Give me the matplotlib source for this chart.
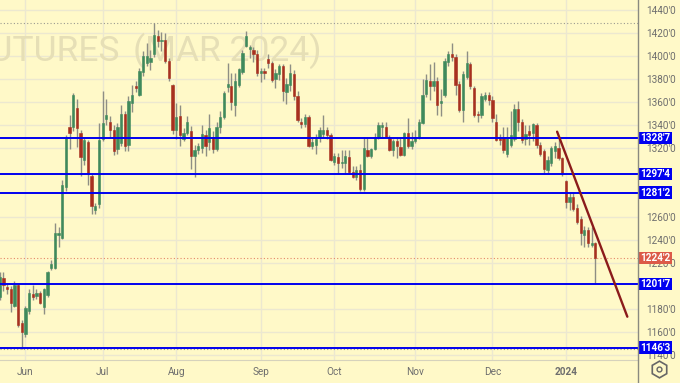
import matplotlib
matplotlib.use("Agg")
import matplotlib.pyplot as plt
from matplotlib.lines import Line2D
from matplotlib.patches import Rectangle
import pandas as pd

# daily bars, soybean futures Mar 2024
holidays = ["2023-05-29", "2023-06-19", "2023-07-04", "2023-09-04",
            "2023-11-23", "2023-12-25", "2024-01-01"]
dates = pd.bdate_range("2023-05-22", "2024-01-12")
dates = dates[~dates.isin(pd.to_datetime(holidays))]

opens = [1190, 1207, 1199, 1197, 1183, 1201, 1168, 1158, 1178, 1193,
         1191, 1194, 1182, 1192, 1216, 1216, 1244, 1242, 1286, 1338,
         1338, 1355, 1333, 1310, 1325, 1296, 1266, 1271, 1328, 1345,
         1343, 1336, 1319, 1324, 1350, 1323, 1359, 1374, 1366, 1386,
         1394, 1395, 1402, 1417, 1413, 1414, 1396, 1375, 1336, 1348,
         1328, 1333, 1335, 1313, 1318, 1320, 1331, 1325, 1330, 1319,
         1338, 1347, 1373, 1374, 1357, 1375, 1386, 1409, 1406, 1405,
         1402, 1385, 1387, 1397, 1394, 1380, 1384, 1391, 1369, 1375,
         1384, 1365, 1343, 1341, 1347, 1322, 1323, 1330, 1332, 1336,
         1331, 1308, 1312, 1307, 1307, 1312, 1299, 1295, 1301, 1284,
         1318, 1313, 1319, 1329, 1338, 1338, 1330, 1318, 1326, 1321,
         1314, 1333, 1322, 1326, 1330, 1342, 1367, 1378, 1374, 1378,
         1359, 1366, 1395, 1402, 1399, 1376, 1353, 1382, 1393, 1372,
         1350, 1349, 1363, 1366, 1362, 1343, 1330, 1330, 1315, 1323,
         1328, 1354, 1343, 1328, 1335, 1333, 1340, 1323, 1317, 1301,
         1307, 1317, 1320, 1311, 1291, 1273, 1277, 1268, 1258, 1244,
         1249, 1236, 1237]
highs = [1212, 1212, 1203, 1200, 1204, 1202, 1170, 1183, 1197, 1201,
         1197, 1196, 1198, 1213, 1223, 1255, 1251, 1292, 1331, 1349,
         1368, 1363, 1336, 1330, 1327, 1297, 1272, 1342, 1370, 1363,
         1348, 1340, 1342, 1357, 1352, 1365, 1375, 1378, 1390, 1404,
         1411, 1405, 1429, 1423, 1421, 1420, 1398, 1376, 1359, 1357,
         1337, 1348, 1339, 1323, 1324, 1340, 1336, 1350, 1335, 1343,
         1352, 1370, 1394, 1385, 1385, 1390, 1405, 1422, 1410, 1408,
         1405, 1390, 1390, 1402, 1396, 1389, 1393, 1393, 1381, 1393,
         1388, 1370, 1346, 1350, 1349, 1330, 1332, 1338, 1349, 1338,
         1333, 1316, 1316, 1318, 1318, 1318, 1304, 1304, 1306, 1330,
         1330, 1320, 1333, 1343, 1343, 1343, 1331, 1328, 1330, 1330,
         1334, 1346, 1334, 1336, 1345, 1380, 1384, 1393, 1395, 1382,
         1371, 1398, 1404, 1411, 1402, 1378, 1387, 1404, 1395, 1374,
         1352, 1368, 1369, 1369, 1365, 1350, 1332, 1338, 1338, 1352,
         1358, 1361, 1345, 1340, 1340, 1342, 1342, 1325, 1319, 1313,
         1322, 1325, 1330, 1312, 1292, 1281, 1281, 1271, 1261, 1252,
         1251, 1251, 1238]
lows = [1188, 1196, 1193, 1177, 1182, 1164, 1145.5, 1156, 1176, 1188,
        1189, 1184, 1176, 1190, 1214, 1215, 1234, 1241, 1283, 1319,
        1335, 1321, 1296, 1305, 1288, 1263, 1263, 1268, 1326, 1340,
        1330, 1314, 1315, 1322, 1317, 1317, 1351, 1369, 1365, 1383,
        1391, 1388, 1399, 1408, 1404, 1394, 1378, 1332, 1328, 1322,
        1326, 1331, 1302, 1295, 1315, 1316, 1313, 1318, 1316, 1317,
        1333, 1345, 1369, 1353, 1348, 1373, 1384, 1408, 1398, 1395,
        1383, 1377, 1380, 1390, 1377, 1372, 1379, 1361, 1358, 1370,
        1362, 1343, 1337, 1338, 1321, 1319, 1315, 1325, 1330, 1328,
        1309, 1305, 1297, 1303, 1297, 1297, 1294, 1292, 1283, 1283,
        1312, 1311, 1318, 1328, 1330, 1330, 1317, 1313, 1311, 1313,
        1313, 1320, 1319, 1324, 1328, 1341, 1364, 1362, 1370, 1349,
        1348, 1364, 1391, 1396, 1366, 1351, 1343, 1380, 1371, 1347,
        1343, 1346, 1361, 1357, 1343, 1326, 1323, 1316, 1312, 1321,
        1326, 1335, 1324, 1323, 1323, 1326, 1320, 1313, 1297, 1297,
        1304, 1311, 1310, 1296, 1268, 1266, 1265, 1254, 1236, 1234,
        1234, 1234, 1202]
closes = [1208, 1201, 1197, 1185, 1201, 1166, 1160, 1181, 1194, 1190,
          1194, 1185, 1197, 1212, 1219, 1246, 1246, 1288, 1329, 1333,
          1366, 1337, 1312, 1327, 1297, 1270, 1270, 1327, 1342, 1349,
          1336, 1317, 1338, 1350, 1322, 1361, 1366, 1372, 1387, 1400,
          1400, 1398, 1418, 1413, 1414, 1396, 1381, 1336, 1347, 1331,
          1333, 1343, 1313, 1318, 1322, 1332, 1322, 1337, 1319, 1338,
          1347, 1368, 1376, 1360, 1378, 1389, 1403, 1417, 1408, 1402,
          1385, 1387, 1385, 1394, 1379, 1385, 1391, 1370, 1376, 1385,
          1365, 1344, 1341, 1347, 1322, 1325, 1328, 1336, 1336, 1331,
          1310, 1313, 1307, 1308, 1313, 1299, 1295, 1301, 1284, 1320,
          1313, 1319, 1330, 1340, 1340, 1330, 1318, 1326, 1322, 1314,
          1333, 1322, 1326, 1330, 1343, 1366, 1379, 1374, 1378, 1357,
          1361, 1396, 1402, 1399, 1375, 1353, 1384, 1394, 1374, 1349,
          1349, 1365, 1366, 1362, 1346, 1327, 1327, 1318, 1330, 1331,
          1354, 1343, 1327, 1332, 1331, 1341, 1323, 1315, 1302, 1310,
          1320, 1322, 1311, 1298, 1273, 1277, 1267, 1256, 1246, 1249,
          1237, 1237, 1224.25]

levels = [1328.875, 1297.5, 1281.25, 1201.875, 1146.375]
level_labels = ["1328'7", "1297'4", "1281'2", "1201'7", "1146'3"]
last_label = "1224'2"
watermark = ["FUTURES", "(MAR 2024)"]
# drawn trend line: (bar position, price)
trend_x = [151.6, 170.7]
trend_y = [1334.2, 1173.3]

BG = "#fff9c8"
GRID = "#ece8d0"
UP = "#3f8a5c"
DOWN = "#a8301f"
WICK = "#8e8e84"
TXT = "#6e6e6e"
FONT = ["Roboto", "DejaVu Sans"]

W, H = 680, 383
fig = plt.figure(figsize=(W / 100, H / 100), dpi=100)
fig.patch.set_facecolor(BG)
ax = fig.add_axes([0, 23 / H, 638 / W, 360 / H])
ax.set_facecolor(BG)

x = list(range(len(dates)))
ax.vlines(x, lows, highs, color=WICK, lw=1.0, zorder=3)
for i in x:
    o, c = opens[i], closes[i]
    col = UP if c >= o else DOWN
    h = max(abs(c - o), 1.0)
    ax.bar(i, h, bottom=min(o, c) - (h - abs(c - o)) / 2, width=0.62,
           color=col, edgecolor=col, lw=0.4, zorder=4)

for lv in levels:
    ax.axhline(lv, color="#0000f0", lw=1.4, zorder=5)
ax.axhline(max(highs), color="#9a9a90", lw=0.8, ls=(0, (1, 2)), zorder=2)
ax.axhline(min(lows), color="#9a9a90", lw=0.8, ls=(0, (1, 2)), zorder=2)
ax.axhline(closes[-1], color="#e4876a", lw=0.8, ls=(0, (1, 2)), zorder=2)
ax.plot(trend_x, trend_y, color="#8b1b1b", lw=1.7, zorder=6,
        solid_capstyle="round")

# watermark, cut at the left edge as on the chart
ax.text(120 / 638, 0.858, watermark[0], transform=ax.transAxes, ha="right",
        va="center", fontsize=25.5, family=FONT, color="#e6dfb6", zorder=1)
ax.text(322 / 638, 0.858, watermark[1], transform=ax.transAxes, ha="right",
        va="center", fontsize=25.5, family=FONT, color="#e6dfb6", zorder=1)

# axes, grid, ticks
ax.set_xlim(0.08, 173.6)
ax.set_ylim(1135.65, 1448.7)
month_idx = [i for i in range(1, len(dates)) if dates[i].month != dates[i - 1].month]
month_lab = [dates[i].strftime("%b") if dates[i].month != 1 else str(dates[i].year)
             for i in month_idx]
ax.set_xticks(month_idx)
ax.set_xticklabels(month_lab, family=FONT)
yt = [v for v in range(1140, 1441, 20) if v not in (1200, 1280, 1300)]
ax.set_yticks(yt)
ax.set_yticklabels([f"{v}'0" for v in yt], family=FONT)
ax.yaxis.tick_right()
ax.grid(True, color=GRID, lw=1.0, zorder=0)
ax.set_axisbelow(True)
ax.tick_params(axis="both", length=0, labelsize=7.2, labelcolor=TXT)
ax.tick_params(axis="y", pad=6)
ax.tick_params(axis="x", pad=5)
for lab in ax.get_xticklabels():
    if lab.get_text() == "2024":
        lab.set_fontweight("bold")
for s in ["top", "left", "right"]:
    ax.spines[s].set_visible(False)
ax.spines["bottom"].set_color("#d6d2bc")

# price boxes on the scale
box_w = 34 / 638
box_h = 6.2 / 1.15
ytr = ax.get_yaxis_transform()
for lv, lab, fc in zip(levels + [closes[-1]], level_labels + [last_label],
                       ["#0000f0"] * len(levels) + ["#dc5a48"]):
    ax.add_patch(Rectangle((1.0, lv - box_h), box_w, 2 * box_h, transform=ytr,
                           fc=fc, ec="none", clip_on=False, zorder=9))
    ax.text(1.0 + box_w / 2, lv, lab, transform=ytr, ha="center", va="center",
            fontsize=7.2, family=FONT, color="white", fontweight="bold",
            clip_on=False, zorder=10)

# price scale border and settings icon
fig.add_artist(Line2D([638 / W, 638 / W], [0, 1], color="#8a8a80", lw=1.0))
ui = fig.add_axes([0, 0, 1, 1])
ui.set_xlim(0, W)
ui.set_ylim(H, 0)
ui.axis("off")
ui.plot([659], [369], marker="h", ms=12, mfc="none", mec="#666666", mew=1.2)
ui.plot([659], [369], marker="o", ms=3.5, mfc="none", mec="#666666", mew=1.0)

fig.savefig("out.png", dpi=100, facecolor=BG)
